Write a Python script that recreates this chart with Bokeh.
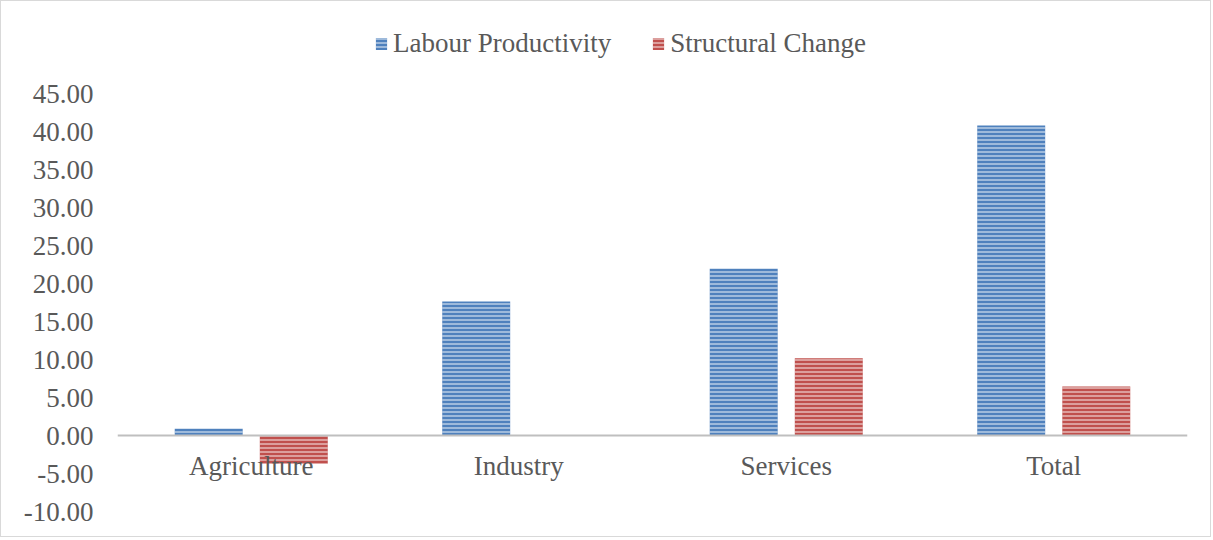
from bokeh.plotting import figure
from bokeh.models import (ColumnDataSource, Range1d, FactorRange, FixedTicker,
                          NumeralTickFormatter, Legend, LegendItem)
from bokeh.transform import dodge
from bokeh.embed import file_html
from bokeh.resources import INLINE

categories = ["Agriculture", "Industry", "Services", "Total"]
labour_productivity = [0.9, 17.7, 22.0, 40.9]
structural_change = [-3.7, 0.1, 10.2, 6.5]
y_ticks = [-10, -5, 0, 5, 10, 15, 20, 25, 30, 35, 40, 45]
series_names = ["Labour Productivity", "Structural Change"]

FONT = "Liberation Serif"
TXT = "#595959"

source = ColumnDataSource(dict(cat=categories, lp=labour_productivity, sc=structural_change))

p = figure(x_range=FactorRange(*categories), y_range=Range1d(-12.5, 55),
           frame_width=1070, frame_height=512,
           min_border_left=116, min_border_right=23, min_border_top=17, min_border_bottom=6,
           output_backend="svg", toolbar_location=None)
p.styles = {"border": "1px solid #d9d9d9"}
p.outline_line_color = None
p.xgrid.grid_line_color = None
p.ygrid.grid_line_color = None

r1 = p.vbar(x=dodge("cat", -0.159, range=p.x_range), top="lp", bottom=0, width=0.254, source=source,
            fill_color="#4f81bd", line_color=None,
            hatch_pattern="horizontal_line", hatch_color="white", hatch_alpha=0.6,
            hatch_scale=4, hatch_weight=1.5)
r2 = p.vbar(x=dodge("cat", 0.159, range=p.x_range), top="sc", bottom=0, width=0.254, source=source,
            fill_color="#c0504d", line_color=None,
            hatch_pattern="horizontal_line", hatch_color="white", hatch_alpha=0.6,
            hatch_scale=4, hatch_weight=1.5)

# axes
p.yaxis.ticker = FixedTicker(ticks=y_ticks)
p.yaxis.formatter = NumeralTickFormatter(format="0.00")
p.yaxis.axis_line_color = None
p.yaxis.major_tick_line_color = None
p.yaxis.minor_tick_line_color = None
p.yaxis.major_tick_out = 0
p.yaxis.minor_tick_out = 0
p.yaxis.major_label_standoff = 24
p.yaxis.major_label_text_font = FONT
p.yaxis.major_label_text_font_size = "27px"
p.yaxis.major_label_text_color = TXT

p.xaxis.fixed_location = 0
p.xaxis.axis_line_color = "#bfbfbf"
p.xaxis.axis_line_width = 2
p.xaxis.major_tick_line_color = None
p.xaxis.minor_tick_line_color = None
p.xaxis.major_tick_out = 0
p.xaxis.minor_tick_out = 0
p.xaxis.major_label_standoff = 15
p.xaxis.major_label_text_font = FONT
p.xaxis.major_label_text_font_size = "27px"
p.xaxis.major_label_text_color = TXT

legend = Legend(items=[LegendItem(label=series_names[0], renderers=[r1]),
                       LegendItem(label=series_names[1], renderers=[r2])],
                orientation="horizontal", location=(257, 471),
                label_text_font=FONT, label_text_font_size="27px", label_text_color=TXT,
                glyph_width=14, glyph_height=15, spacing=40, label_standoff=5,
                border_line_color=None, background_fill_alpha=0, margin=0, padding=0)
p.add_layout(legend, "center")

open("out.html", "w").write(file_html(p, INLINE))
